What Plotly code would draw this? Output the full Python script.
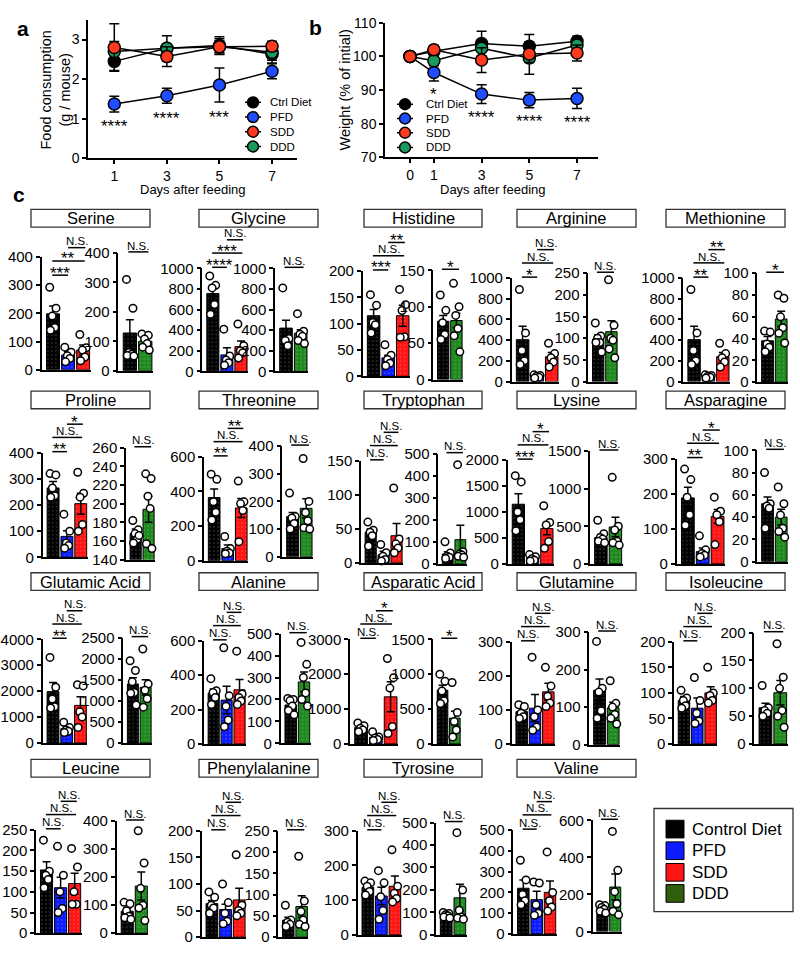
import plotly.graph_objects as go

W, H = 800, 953
FONT = "Arial, Liberation Sans, Helvetica, sans-serif"

# ---------------- panels a and b ----------------
DAYS_FOOD = [1, 3, 5, 7]
FOOD_MEAN = {
    "Ctrl Diet": [2.45, 2.78, 2.85, 2.63],
    "PFD": [1.37, 1.58, 1.85, 2.20],
    "SDD": [2.80, 2.57, 2.82, 2.83],
    "DDD": [2.70, 2.78, 2.82, 2.68],
}
FOOD_SEM = {
    "Ctrl Diet": [0.23, 0.10, 0.22, 0.15],
    "PFD": [0.20, 0.19, 0.43, 0.19],
    "SDD": [0.60, 0.25, 0.20, 0.12],
    "DDD": [0.25, 0.32, 0.15, 0.27],
}
FOOD_STARS = ["****", "****", "***", ""]

DAYS_WEIGHT = [0, 1, 3, 5, 7]
WEIGHT_MEAN = {
    "Ctrl Diet": [100, 101.5, 103.8, 103.0, 104.5],
    "PFD": [100, 95.2, 88.8, 87.0, 87.5],
    "SDD": [100, 102.0, 98.9, 100.7, 101.0],
    "DDD": [100, 98.7, 102.4, 99.5, 103.4],
}
WEIGHT_SEM = {
    "Ctrl Diet": [0, 1.5, 3.7, 3.5, 1.5],
    "PFD": [0, 2.5, 2.8, 2.3, 3.0],
    "SDD": [0, 1.2, 3.7, 2.5, 2.4],
    "DDD": [0, 1.5, 2.5, 4.8, 1.5],
}
WEIGHT_STARS = ["", "*", "****", "****", "****"]

LINE_GROUPS = ["Ctrl Diet", "PFD", "SDD", "DDD"]
LINE_COLORS = {"Ctrl Diet": "#000000", "PFD": "#1f4dff", "SDD": "#ff3b1f", "DDD": "#1b9a5e"}

# ---------------- panel c ----------------
AMINO_ACIDS = [
    "Serine", "Glycine", "Histidine", "Arginine", "Methionine",
    "Proline", "Threonine", "Tryptophan", "Lysine", "Asparagine",
    "Glutamic Acid", "Alanine", "Asparatic Acid", "Glutamine", "Isoleucine",
    "Leucine", "Phenylalanine", "Tyrosine", "Valine",
]
BAR_GROUPS = ["Control Diet", "PFD", "SDD", "DDD"]
BAR_COLORS = {"Control Diet": "#000000", "PFD": "#0d1cff", "SDD": "#ff1414", "DDD": "#1e8a1e"}
LEGEND_COLORS = {"Control Diet": "#000000", "PFD": "#0d1cff", "SDD": "#ff1414", "DDD": "#2f5f0c"}

# left plot: Control Diet, PFD, SDD
LEFT_MEAN = {
    "Serine": [198, 52, 70], "Glycine": [755, 160, 240], "Histidine": [115, 35, 115],
    "Arginine": [405, 50, 240], "Methionine": [405, 50, 240], "Proline": [265, 80, 205],
    "Threonine": [365, 70, 305], "Tryptophan": [45, 12, 40], "Lysine": [1150, 110, 680],
    "Asparagine": [188, 35, 135], "Glutamic Acid": [1980, 550, 1450], "Alanine": [295, 255, 315],
    "Asparatic Acid": [470, 190, 1350], "Glutamine": [95, 105, 153], "Isoleucine": [85, 70, 100],
    "Leucine": [153, 110, 120], "Phenylalanine": [63, 52, 70], "Tyrosine": [137, 112, 140],
    "Valine": [220, 165, 200],
}
LEFT_SEM = {
    "Serine": [28, 12, 18], "Glycine": [80, 70, 55], "Histidine": [12, 5, 20],
    "Arginine": [130, 10, 40], "Methionine": [130, 10, 40], "Proline": [25, 22, 40],
    "Threonine": [50, 20, 55], "Tryptophan": [5, 5, 18], "Lysine": [200, 30, 120],
    "Asparagine": [30, 10, 20], "Glutamic Acid": [350, 100, 330], "Alanine": [25, 80, 60],
    "Asparatic Acid": [60, 50, 430], "Glutamine": [10, 40, 25], "Isoleucine": [8, 20, 12],
    "Leucine": [20, 25, 25], "Phenylalanine": [6, 10, 22], "Tyrosine": [10, 25, 30],
    "Valine": [40, 40, 55],
}
LEFT_DOTS = {
    "Serine": [[292, 218, 190, 150, 140], [80, 62, 50, 40, 28], [125, 78, 70, 45, 32]],
    "Glycine": [[925, 835, 810, 650, 555], [410, 150, 110, 85, 60], [460, 250, 200, 180, 130]],
    "Histidine": [[155, 135, 102, 98, 82], [60, 40, 32, 25, 20], [165, 136, 125, 75, 74]],
    "Arginine": [[890, 470, 300, 200, 165], [65, 58, 50, 42, 35], [370, 270, 230, 190, 140]],
    "Methionine": [[890, 470, 300, 200, 165], [65, 58, 50, 42, 35], [370, 270, 230, 190, 140]],
    "Proline": [[320, 315, 265, 235, 230], [165, 100, 55, 45, 35], [325, 245, 230, 125, 100]],
    "Threonine": [[500, 470, 340, 280, 235], [140, 70, 55, 45, 40], [460, 340, 330, 290, 110]],
    "Tryptophan": [[60, 48, 45, 40, 25], [27, 15, 10, 5, 3], [110, 35, 28, 22, 15]],
    "Lysine": [[1700, 1580, 1000, 850, 640], [180, 140, 100, 70, 55], [1120, 800, 750, 430, 300]],
    "Asparagine": [[270, 240, 190, 140, 110], [80, 40, 30, 25, 20], [190, 150, 140, 120, 55]],
    "Glutamic Acid": [[3300, 2150, 1700, 1400, 1350], [800, 600, 500, 450, 400], [2250, 2200, 1200, 1000, 600]],
    "Alanine": [[380, 310, 300, 270, 230], [560, 280, 220, 140, 100], [540, 290, 270, 250, 230]],
    "Asparatic Acid": [[600, 520, 450, 400, 350], [350, 200, 170, 130, 100], [2450, 1900, 1600, 500, 300]],
    "Glutamine": [[115, 110, 90, 80, 75], [255, 100, 80, 50, 40], [225, 170, 140, 120, 110]],
    "Isoleucine": [[105, 90, 85, 75, 70], [130, 85, 60, 45, 40], [150, 100, 95, 85, 80]],
    "Leucine": [[225, 150, 140, 130, 110], [210, 140, 100, 60, 50], [205, 160, 100, 70, 70]],
    "Phenylalanine": [[85, 75, 60, 55, 45], [100, 65, 45, 30, 25], [155, 60, 50, 45, 40]],
    "Tyrosine": [[155, 150, 140, 125, 115], [185, 150, 110, 70, 45], [245, 140, 120, 105, 95]],
    "Valine": [[355, 260, 190, 160, 140], [250, 245, 140, 100, 90], [395, 200, 160, 130, 110]],
}
# right plot: Control Diet, DDD
RIGHT_MEAN = {
    "Serine": [128, 100], "Glycine": [420, 370], "Histidine": [80, 81], "Arginine": [98, 115],
    "Methionine": [38, 58], "Proline": [168, 194], "Threonine": [145, 175], "Tryptophan": [45, 110],
    "Lysine": [350, 490], "Asparagine": [52, 40], "Glutamic Acid": [1400, 1320], "Alanine": [175, 280],
    "Asparatic Acid": [770, 370], "Glutamine": [145, 98], "Isoleucine": [65, 92], "Leucine": [78, 168],
    "Phenylalanine": [40, 72], "Tyrosine": [90, 165], "Valine": [125, 240],
}
RIGHT_SEM = {
    "Serine": [45, 12], "Glycine": [75, 35], "Histidine": [8, 10], "Arginine": [10, 25],
    "Methionine": [4, 7], "Proline": [5, 14], "Threonine": [15, 35], "Tryptophan": [10, 65],
    "Lysine": [40, 130], "Asparagine": [6, 7], "Glutamic Acid": [150, 180], "Alanine": [12, 45],
    "Asparatic Acid": [70, 100], "Glutamine": [30, 15], "Isoleucine": [8, 22], "Leucine": [12, 50],
    "Phenylalanine": [7, 25], "Tyrosine": [5, 60], "Valine": [10, 70],
}
RIGHT_DOTS = {
    "Serine": [[310, 212, 62, 56, 52, 50], [125, 120, 108, 92, 80, 70]],
    "Glycine": [[810, 320, 300, 250], [560, 390, 360, 340, 300, 270]],
    "Histidine": [[116, 95, 78, 62, 55], [132, 100, 88, 70, 60, 38]],
    "Arginine": [[135, 105, 100, 90, 90, 68], [235, 130, 100, 95, 75, 55]],
    "Methionine": [[47, 46, 35, 32, 28], [80, 77, 60, 50, 45, 36]],
    "Proline": [[182, 172, 168, 162, 158, 166], [232, 227, 208, 195, 157, 152]],
    "Threonine": [[230, 145, 140, 120, 100], [355, 200, 160, 130, 105, 100]],
    "Tryptophan": [[100, 50, 35, 30, 25], [450, 55, 45, 40, 35, 30]],
    "Lysine": [[580, 400, 350, 330, 300, 280], [1150, 500, 450, 300, 280, 250]],
    "Asparagine": [[80, 52, 50, 48, 30], [67, 52, 42, 30, 27, 22]],
    "Glutamic Acid": [[1950, 1720, 1450, 1200, 1180, 900], [2230, 1400, 1250, 1050, 850]],
    "Alanine": [[205, 200, 195, 170, 150, 130], [460, 360, 300, 230, 200, 170]],
    "Asparatic Acid": [[1000, 900, 760, 620, 580], [880, 450, 320, 200, 100]],
    "Glutamine": [[275, 150, 140, 90, 70], [170, 110, 100, 80, 70, 55]],
    "Isoleucine": [[105, 65, 60, 55, 50], [180, 120, 100, 60, 50, 30]],
    "Leucine": [[110, 105, 80, 60, 55, 50], [365, 250, 160, 100, 90, 45]],
    "Phenylalanine": [[75, 40, 35, 30, 25], [190, 85, 60, 40, 30, 25]],
    "Tyrosine": [[100, 95, 90, 85, 80, 75], [455, 200, 110, 80, 75, 70]],
    "Valine": [[145, 140, 130, 120, 110, 100], [540, 330, 215, 150, 110, 90]],
}
NS3 = ["N.S.", "N.S.", "N.S."]
# comparisons: Ctrl-PFD, Ctrl-SDD, PFD-SDD
LEFT_SIG = {
    "Serine": ["***", "**", "N.S."], "Glycine": ["****", "***", "N.S."], "Histidine": ["***", "N.S.", "**"],
    "Arginine": ["*", "N.S.", "N.S."], "Methionine": ["**", "N.S.", "**"], "Proline": ["**", "N.S.", "*"],
    "Threonine": ["**", "N.S.", "**"], "Tryptophan": NS3, "Lysine": ["***", "N.S.", "*"],
    "Asparagine": ["**", "N.S.", "*"], "Glutamic Acid": ["**", "N.S.", "N.S."], "Alanine": NS3,
    "Asparatic Acid": ["N.S.", "N.S.", "*"], "Glutamine": NS3, "Isoleucine": NS3, "Leucine": NS3,
    "Phenylalanine": NS3, "Tyrosine": NS3, "Valine": NS3,
}
RIGHT_SIG = {name: "N.S." for name in AMINO_ACIDS}
RIGHT_SIG.update({"Histidine": "*", "Methionine": "*", "Asparatic Acid": "*"})

# y axis (max, tick step) for left plots; (min, max, tick step) for right plots
LEFT_Y = {
    "Serine": (400, 100), "Glycine": (1000, 200), "Histidine": (200, 50), "Arginine": (1000, 200),
    "Methionine": (1000, 200), "Proline": (400, 100), "Threonine": (600, 200), "Tryptophan": (150, 50),
    "Lysine": (2000, 500), "Asparagine": (300, 100), "Glutamic Acid": (4000, 1000), "Alanine": (600, 200),
    "Asparatic Acid": (3000, 1000), "Glutamine": (300, 100), "Isoleucine": (200, 50), "Leucine": (250, 50),
    "Phenylalanine": (200, 50), "Tyrosine": (300, 100), "Valine": (500, 100),
}
RIGHT_Y = {
    "Serine": (0, 400, 100), "Glycine": (0, 1000, 200), "Histidine": (0, 150, 50), "Arginine": (0, 250, 50),
    "Methionine": (0, 100, 20), "Proline": (140, 260, 20), "Threonine": (0, 400, 100),
    "Tryptophan": (0, 500, 100), "Lysine": (0, 1500, 500), "Asparagine": (0, 100, 20),
    "Glutamic Acid": (0, 2500, 500), "Alanine": (0, 500, 100), "Asparatic Acid": (0, 1500, 500),
    "Glutamine": (0, 300, 100), "Isoleucine": (0, 200, 50), "Leucine": (0, 400, 100),
    "Phenylalanine": (0, 250, 50), "Tyrosine": (0, 500, 100), "Valine": (0, 600, 200),
}

# ---------------- layout geometry (pixels) ----------------
# (axis x, axis end x, top y, bottom y)
LEFT_BOX = {
    "Serine": (41.7, 90.7, 252.3, 367.3), "Glycine": (202.3, 248, 264, 369),
    "Histidine": (362.7, 410, 266.7, 374), "Arginine": (511.7, 559, 274, 379.3),
    "Methionine": (683.3, 730, 274, 379.3), "Proline": (42.7, 87.7, 451.7, 558.3),
    "Threonine": (204, 248, 456, 561.7), "Tryptophan": (361, 403, 460, 564),
    "Lysine": (507.7, 554, 459.3, 565), "Asparagine": (676.7, 725, 457.7, 565),
    "Glutamic Acid": (42.7, 87.3, 641.7, 747.3), "Alanine": (204, 246, 643.3, 748.3),
    "Asparatic Acid": (350, 398, 641.7, 748.3), "Glutamine": (511.7, 555, 644.3, 748.3),
    "Isoleucine": (674, 717.3, 644.3, 748.3), "Leucine": (36, 81.7, 835.7, 941),
    "Phenylalanine": (201.7, 246, 836.7, 945), "Tyrosine": (357.7, 401.7, 836.7, 942.7),
    "Valine": (513.3, 556.7, 836, 941.7),
}
RIGHT_BOX = {
    "Serine": (118.3, 153, 248.3, 368.3), "Glycine": (275, 308, 264, 369),
    "Histidine": (433.3, 463, 266, 377.3), "Arginine": (588.3, 618, 269, 379.3),
    "Methionine": (757.3, 788, 269, 380), "Proline": (126, 155, 446.7, 560.7),
    "Threonine": (282.3, 313, 445, 557.7), "Tryptophan": (438.3, 466.7, 452.7, 565),
    "Lysine": (590, 622.7, 450, 565), "Asparagine": (757.3, 788, 449.3, 562.7),
    "Glutamic Acid": (123.3, 152, 640, 747.3), "Alanine": (280.7, 310.7, 636, 747.7),
    "Asparatic Acid": (433.3, 461, 641.7, 748.3), "Glutamine": (589.3, 620, 634.3, 749),
    "Isoleucine": (754.3, 787.7, 635, 748.3), "Leucine": (116.7, 148.3, 826.7, 941),
    "Phenylalanine": (278.3, 308.3, 836.7, 945), "Tyrosine": (436, 466.7, 828.3, 942.7),
    "Valine": (592.7, 621.7, 826, 939.3),
}
TITLE_COLS = [(31, 150), (199, 318), (364, 482), (517, 636), (666, 785)]
TITLE_ROWS = [204, 389, 574, 764]
BRACKET_BASE = {"Serine": 335}   # lowest left bracket sits inside the axis for serine
LEVEL_GAP = [0, 14.5, 28]
JITTER = [-0.22, 0.2, -0.05, 0.12, -0.17, 0.26]


def px_x(p):
    return p / W


def px_y(p):
    return 1 - p / H


fig = go.Figure()
layout_axes = {}
shapes = []
annotations = []
axis_n = [0]

AX = dict(showline=True, linecolor="black", linewidth=1.5, showgrid=False, zeroline=False, fixedrange=True)
TICKS = dict(ticks="outside", ticklen=4, tickwidth=1.5, tickcolor="black")


def add_axes(x0, x1, top, bottom, xr, yr, xstyle, ystyle):
    axis_n[0] += 1
    s = "" if axis_n[0] == 1 else str(axis_n[0])
    layout_axes["xaxis" + s] = dict(domain=[px_x(x0), px_x(x1)], anchor="y" + s, range=xr, **xstyle)
    layout_axes["yaxis" + s] = dict(domain=[px_y(bottom), px_y(top)], anchor="x" + s, range=yr, **ystyle)
    return "x" + s, "y" + s


def text(x, y, s, size, **kw):
    d = dict(x=x, y=y, text=s, showarrow=False, xref="paper", yref="paper",
             xanchor="center", yanchor="middle",
             font=dict(family=FONT, size=size, color="black"))
    d.update(kw)
    annotations.append(d)


# ---------- panel a ----------
xa, ya = add_axes(88, 297, 11, 152, [0, 7.95], [0, 3.5],
                  dict(AX, **TICKS, tickvals=DAYS_FOOD, tickfont=dict(family=FONT, size=14, color="black")),
                  dict(AX, **TICKS, tickvals=[0, 1, 2, 3], tickfont=dict(family=FONT, size=14, color="black")))
for g in ["Ctrl Diet", "PFD", "DDD", "SDD"]:
    fig.add_trace(go.Scatter(
        x=DAYS_FOOD, y=FOOD_MEAN[g], mode="lines+markers", name=g, xaxis=xa, yaxis=ya, cliponaxis=False,
        line=dict(color="black", width=1.5),
        marker=dict(size=12, color=LINE_COLORS[g], line=dict(color="black", width=1.5)),
        error_y=dict(type="data", array=FOOD_SEM[g], color="black", thickness=1.5, width=5)))
for d, m, e, s in zip(DAYS_FOOD, FOOD_MEAN["PFD"], FOOD_SEM["PFD"], FOOD_STARS):
    if s:
        annotations.append(dict(x=d, y=m - e, xref=xa, yref=ya, text=s, showarrow=False, yshift=-15,
                                xanchor="center", yanchor="middle",
                                font=dict(family=FONT, size=17, color="black")))

# ---------- panel b ----------
xb, yb = add_axes(385, 598, 14, 151, [-1.05, 7.88], [70, 110],
                  dict(AX, **TICKS, tickvals=DAYS_WEIGHT, tickfont=dict(family=FONT, size=14, color="black")),
                  dict(AX, **TICKS, tickvals=[70, 80, 90, 100, 110], tickfont=dict(family=FONT, size=14, color="black")))
for g in ["Ctrl Diet", "PFD", "DDD", "SDD"]:
    fig.add_trace(go.Scatter(
        x=DAYS_WEIGHT, y=WEIGHT_MEAN[g], mode="lines+markers", name=g, xaxis=xb, yaxis=yb, cliponaxis=False,
        line=dict(color="black", width=1.5),
        marker=dict(size=12, color=LINE_COLORS[g], line=dict(color="black", width=1.5)),
        error_y=dict(type="data", array=WEIGHT_SEM[g], color="black", thickness=1.5, width=5)))
for d, m, e, s in zip(DAYS_WEIGHT, WEIGHT_MEAN["PFD"], WEIGHT_SEM["PFD"], WEIGHT_STARS):
    if s:
        annotations.append(dict(x=d, y=m - e, xref=xb, yref=yb, text=s, showarrow=False, yshift=-14,
                                xanchor="center", yanchor="middle",
                                font=dict(family=FONT, size=17, color="black")))

# line legends for a and b
for cx, ys, tx in [(253, [95, 110, 125, 140], 268), (405, [97, 111.5, 126, 141], 424)]:
    for g, yy in zip(LINE_GROUPS, ys):
        shapes.append(dict(type="line", xref="paper", yref="paper", x0=px_x(cx - 8), x1=px_x(cx + 8),
                           y0=px_y(yy), y1=px_y(yy), line=dict(color="black", width=1.5)))
        shapes.append(dict(type="circle", xref="paper", yref="paper", x0=px_x(cx - 5.5), x1=px_x(cx + 5.5),
                           y0=px_y(yy + 5.5), y1=px_y(yy - 5.5), fillcolor=LINE_COLORS[g],
                           line=dict(color="black", width=1.5)))
        text(px_x(tx), px_y(yy), g, 11.5, xanchor="left")

# axis titles, panel labels
text(px_x(56), px_y(83), "Food consumption<br>(g / mouse)", 14.5, textangle=-90)
text(px_x(345), px_y(83), "Weight (% of intial)", 14.5, textangle=-90)
text(px_x(193), px_y(184), "Days after feeding", 13)
text(px_x(493), px_y(184), "Days after feeding", 13)
for lab, lx, ly in [("a", 23, 20), ("b", 315, 19), ("c", 19, 189)]:
    text(px_x(lx), px_y(ly), "<b>%s</b>" % lab, 21)

# ---------- panel c ----------
bar_x = dict(AX, showticklabels=False, ticks="")


def bar_y(y0, dt):
    return dict(AX, **TICKS, tickmode="linear", tick0=y0, dtick=dt,
                tickfont=dict(family=FONT, size=15, color="black"))


def cat_px(box, n, v):
    r0, r1 = -0.75, n - 0.5
    return box[0] + (v - r0) / (r1 - r0) * (box[1] - box[0])


def add_bracket(box, n, a, b, y, label):
    shapes.append(dict(type="line", xref="paper", yref="paper", x0=px_x(cat_px(box, n, a)),
                       x1=px_x(cat_px(box, n, b)), y0=px_y(y), y1=px_y(y),
                       line=dict(color="black", width=1.5)))
    mid = (cat_px(box, n, a) + cat_px(box, n, b)) / 2
    if label.startswith("N"):
        text(px_x(mid), px_y(y - 6.5), label, 11.5)
    else:
        text(px_x(mid), px_y(y - 2), label, 17)


def bar_panel(box, yr, dt, groups, means, sems, dots):
    n = len(groups)
    xx, yy = add_axes(box[0], box[1], box[2], box[3], [-0.75, n - 0.5], list(yr), bar_x, bar_y(yr[0], dt))
    colors = [BAR_COLORS[g] for g in groups]
    fig.add_trace(go.Bar(
        x=list(range(n)), y=means, width=0.86, xaxis=xx, yaxis=yy,
        marker=dict(color=colors, line=dict(color="black", width=1),
                    pattern=dict(shape=".", fgcolor="#ffffff", fgopacity=0.25, size=4, solidity=0.15)),
        error_y=dict(type="data", array=sems, color="black", thickness=1.5, width=4)))
    px_, py_ = [], []
    for i, vals in enumerate(dots):
        for k, v in enumerate(vals):
            px_.append(i + JITTER[k % len(JITTER)])
            py_.append(v)
    fig.add_trace(go.Scatter(
        x=px_, y=py_, mode="markers", xaxis=xx, yaxis=yy, cliponaxis=False,
        marker=dict(size=7.5, color="white", line=dict(color="black", width=1.5))))


for idx, name in enumerate(AMINO_ACIDS):
    row, col = divmod(idx, 5)
    tx0, tx1 = TITLE_COLS[col]
    ty = TITLE_ROWS[row]
    shapes.append(dict(type="rect", xref="paper", yref="paper", x0=px_x(tx0), x1=px_x(tx1),
                       y0=px_y(ty + 18), y1=px_y(ty), line=dict(color="#333333", width=1.3)))
    text(px_x((tx0 + tx1) / 2), px_y(ty + 9), name, 16.5)

    lb = LEFT_BOX[name]
    ymax, dt = LEFT_Y[name]
    bar_panel(lb, (0, ymax), dt, ["Control Diet", "PFD", "SDD"],
              LEFT_MEAN[name], LEFT_SEM[name], LEFT_DOTS[name])
    base = lb[2] - 1
    if name in BRACKET_BASE:
        base = lb[3] - BRACKET_BASE[name] / ymax * (lb[3] - lb[2])
    for lvl, ((a, b), lab) in enumerate(zip([(0, 1), (0, 2), (1, 2)], LEFT_SIG[name])):
        ext = [(-0.05, 0.0), (-0.05, 0.1), (0.0, 0.15)][lvl]
        add_bracket(lb, 3, a + ext[0], b + ext[1], base - LEVEL_GAP[lvl], lab)

    rb = RIGHT_BOX[name]
    y0, y1, dt = RIGHT_Y[name]
    bar_panel(rb, (y0, y1), dt, ["Control Diet", "DDD"],
              RIGHT_MEAN[name], RIGHT_SEM[name], RIGHT_DOTS[name])
    add_bracket(rb, 2, -0.1, 1.2, rb[2] - 1, RIGHT_SIG[name])

# bar legend
shapes.append(dict(type="rect", xref="paper", yref="paper", x0=px_x(654), x1=px_x(793),
                   y0=px_y(919), y1=px_y(814), line=dict(color="#333333", width=1.3)))
for g, yy in zip(BAR_GROUPS, [835, 857, 879, 900.5]):
    shapes.append(dict(type="rect", xref="paper", yref="paper", x0=px_x(666), x1=px_x(684),
                       y0=px_y(yy + 9), y1=px_y(yy - 9), fillcolor=LEGEND_COLORS[g],
                       line=dict(color="black", width=1)))
    text(px_x(690), px_y(yy), g, 17, xanchor="left")

fig.update_layout(
    width=W, height=H, margin=dict(l=0, r=0, t=0, b=0),
    paper_bgcolor="white", plot_bgcolor="white", showlegend=False,
    font=dict(family=FONT, color="black"),
    shapes=shapes, annotations=annotations, **layout_axes)

# the page's default body margin would push the 800x953 figure off the window
fig.write_html("out.html", config={"displayModeBar": False},
               post_script="document.body.style.margin='0px';document.body.style.overflow='hidden';")
